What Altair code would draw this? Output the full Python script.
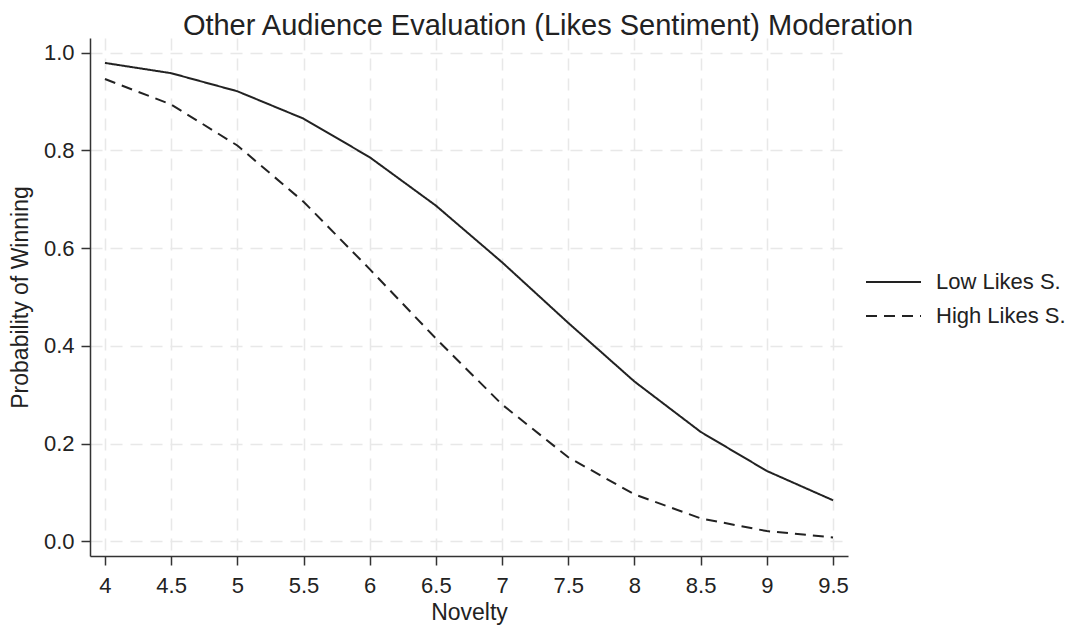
import altair as alt
import pandas as pd

# predicted probabilities
novelty = [4, 4.5, 5, 5.5, 6, 6.5, 7, 7.5, 8, 8.5, 9, 9.5]
low_likes = [0.979, 0.958, 0.921, 0.865, 0.786, 0.687, 0.571, 0.447, 0.327, 0.224, 0.144, 0.084]
high_likes = [0.946, 0.894, 0.810, 0.695, 0.557, 0.415, 0.280, 0.172, 0.096, 0.047, 0.021, 0.008]
groups = ['Low Likes S.', 'High Likes S.']
y_ticks = [0.0, 0.2, 0.4, 0.6, 0.8, 1.0]

df = pd.DataFrame({
    'Novelty': novelty * 2,
    'Probability': low_likes + high_likes,
    'Group': [groups[0]] * len(novelty) + [groups[1]] * len(novelty),
})

font = 'Liberation Sans'

chart = alt.Chart(df).mark_line(strokeWidth=2, color='#222222').encode(
    alt.X('Novelty:Q',
          scale=alt.Scale(domain=[3.887, 9.613], nice=False, zero=False),
          axis=alt.Axis(values=novelty, format='~g', title='Novelty',
                        labelPadding=10, titlePadding=5)),
    alt.Y('Probability:Q',
          scale=alt.Scale(domain=[-0.03, 1.03], nice=False),
          axis=alt.Axis(values=y_ticks, format='.1f', title='Probability of Winning',
                        labelPadding=7, titlePadding=11)),
    strokeDash=alt.StrokeDash('Group:N',
                              scale=alt.Scale(domain=groups, range=[[1, 0], [11, 7]]),
                              legend=alt.Legend(title=None, orient='none', legendX=775, legendY=232,
                                                symbolType='stroke', symbolSize=3025,
                                                symbolStrokeColor='#222222', symbolStrokeWidth=2,
                                                clipHeight=24, rowPadding=10, labelOffset=14,
                                                labelFont=font, labelFontSize=22, labelColor='#222222'))
).properties(
    width=758,
    height=518,
    title=alt.Title('Other Audience Evaluation (Likes Sentiment) Moderation',
                    font=font, fontSize=29, fontWeight='normal', color='#222222',
                    anchor='middle', dx=79, offset=-3),
    autosize=alt.AutoSizeParams(type='none'),
    padding={'left': 82, 'top': 30, 'right': 224, 'bottom': 69},
    background='white'
).configure_view(
    stroke=None
).configure_axis(
    labelFont=font, labelFontSize=22, labelColor='#222222',
    titleFont=font, titleFontSize=23, titleFontWeight='normal', titleColor='#222222',
    domainColor='#333333', domainWidth=1.5,
    tickColor='#333333', tickWidth=1.5, tickSize=9,
    gridColor='#e8e8e8', gridDash=[12, 8], gridWidth=1.5
)

chart.save("out.html", embed_options={"renderer": "svg", "actions": False})
